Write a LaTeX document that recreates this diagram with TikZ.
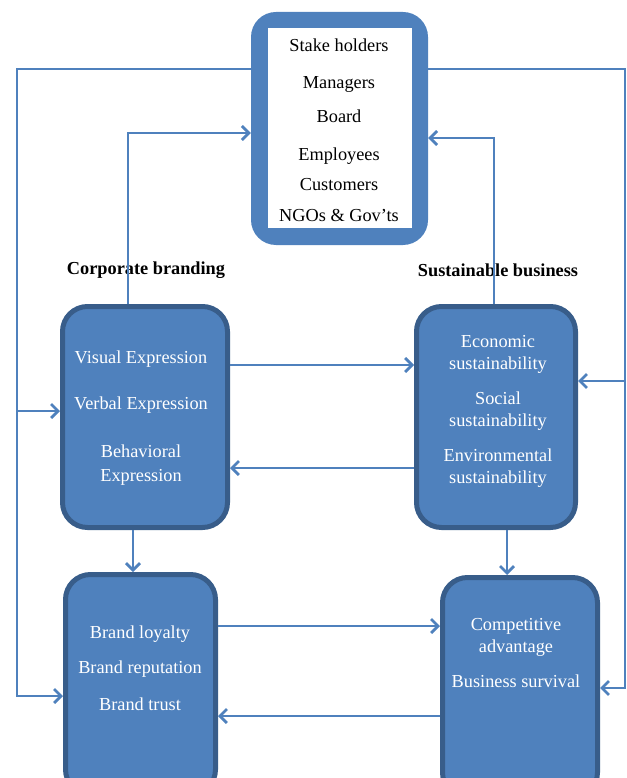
\documentclass[tikz,border=0pt]{standalone}
\usepackage{fontspec}
\setmainfont{Liberation Serif}
\usepackage{xcolor}
\usetikzlibrary{calc,arrows.meta}
\definecolor{boxblue}{HTML}{4F81BD}
\definecolor{boxedge}{HTML}{385D8A}

\tikzset{
  bigfont/.style={font=\fontsize{18.3}{22}\selectfont},
  blockbox/.style={draw=boxedge, line width=5pt, fill=boxblue, rounded corners=25pt, inner sep=0pt},
  blocktext/.style={bigfont, text=white, align=center, inner sep=0pt},
  headtext/.style={bigfont, font=\fontsize{18.3}{22}\selectfont\bfseries, inner sep=0pt},
  link/.style={boxblue, line width=2.8pt, -{Straight Barb[length=7pt,width=14pt]}}
}

\begin{document}
\begin{tikzpicture}[x=1pt, y=-1pt]
  \useasboundingbox (0,0) rectangle (626,778);
  \clip (0,0) rectangle (626,778);

  % stake holders box
  \node[fill=boxblue, rounded corners=25pt, minimum width=177pt, minimum height=233pt, inner sep=0pt] (stake) at (339.5,128.5) {};
  \fill[white] ($(stake.north west)+(17,16)$) rectangle ($(stake.south east)+(-16,-17)$);
  \node[bigfont, align=center, inner sep=0pt] (stake-txt) at (339,130)
    {Stake holders\\[15pt] Managers\\[12pt] Board\\[16pt] Employees\\[8pt] Customers\\[9pt] NGOs \& Gov’ts};

  % headings
  \node[headtext] (corp-head) at (146,270) {Corporate branding};
  \node[headtext] (sust-head) at (498,270) {Sustainable business};

  % blocks
  \node[blockbox, minimum width=165pt, minimum height=221pt] (corp) at (145,417) {};
  \node[blockbox, minimum width=159pt, minimum height=221pt] (sust) at (496,417) {};
  \node[blockbox, minimum width=150pt, minimum height=220pt] (brand) at (140.5,684.5) {};
  \node[blockbox, minimum width=155pt, minimum height=220pt] (comp) at (520,687.5) {};

  \node[blocktext] (corp-txt) at (141,418)
    {Visual Expression\\[24pt] Verbal Expression\\[26pt] Behavioral\\[2pt] Expression};
  \node[blocktext] (sust-txt) at (498,411)
    {Economic\\ sustainability\\[13pt] Social\\ sustainability\\[13pt] Environmental\\ sustainability};
  \node[blocktext] (brand-txt) at (140,668)
    {Brand loyalty\\[13pt] Brand reputation\\[15pt] Brand trust};
  \node[blocktext] (comp-txt) at (516,653)
    {Competitive\\ advantage\\[13pt] Business survival};

  % rails
  \coordinate (lrail) at (17,69);
  \coordinate (rrail) at (625,69);
  \draw[link] (stake.west |- lrail) -- (lrail) |- (brand.west |- 0,696);
  \draw[link] (lrail |- 0,411) -- (corp.west |- 0,411);
  \draw[link] (stake.east |- rrail) -- (rrail) |- (comp.east |- 0,688);
  \draw[link] (rrail |- 0,381) -- (sust.east |- 0,381);

  % feedback to stake holders
  \draw[link] (corp.north -| 128,0) |- (stake.west |- 0,133);
  \draw[link] (sust.north -| 494,0) |- (stake.east |- 0,138);

  % between blocks
  \draw[link] (corp.east |- 0,365) -- (sust.west |- 0,365);
  \draw[link] (sust.west |- 0,468) -- (corp.east |- 0,468);
  \draw[link] (corp.south -| 133,0) -- (brand.north -| 133,0);
  \draw[link] (sust.south -| 507,0) -- (comp.north -| 507,0);
  \draw[link] (brand.east |- 0,626) -- (comp.west |- 0,626);
  \draw[link] (comp.west |- 0,716) -- (brand.east |- 0,716);
\end{tikzpicture}
\end{document}
